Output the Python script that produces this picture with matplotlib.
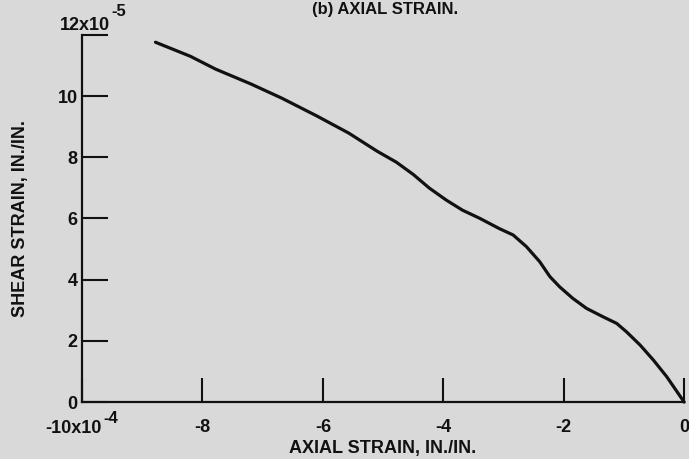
import numpy as np
import matplotlib
matplotlib.use('Agg')
import matplotlib.pyplot as plt

plt.rcParams['font.family'] = ['Liberation Sans', 'DejaVu Sans']

# axial strain (x 1e-4) vs shear strain (x 1e-5)
axial = [-8.78, -8.2, -7.78, -7.2, -6.68, -6.1, -5.57, -5.1, -4.78, -4.5, -4.23,
         -3.95, -3.68, -3.4, -3.07, -2.84, -2.62, -2.4, -2.23, -2.07, -1.85,
         -1.62, -1.35, -1.12, -0.96, -0.73, -0.51, -0.29, 0.0]
shear = [11.76, 11.3, 10.88, 10.4, 9.93, 9.35, 8.79, 8.2, 7.84, 7.44, 6.99,
         6.6, 6.27, 6.01, 5.67, 5.46, 5.08, 4.59, 4.10, 3.77, 3.39,
         3.06, 2.79, 2.57, 2.30, 1.86, 1.37, 0.83, 0.0]

xticks = [-10, -8, -6, -4, -2, 0]
xticklabels = ['', '-8', '-6', '-4', '-2', '0']
yticks = [0, 2, 4, 6, 8, 10, 12]
yticklabels = ['0', '2', '4', '6', '8', '10', '']

bg = '#d9d9d9'
ink = '#111111'
fs = 13
fig = plt.figure(figsize=(6.89, 4.59), dpi=100, facecolor=bg)
ax = fig.add_axes([0.119, 0.124, 0.874, 0.800], facecolor=bg)

ax.plot(axial, shear, color=ink, lw=2.3, solid_capstyle='round',
        solid_joinstyle='round', clip_on=False)

ax.set_xlim(-10, 0)
ax.set_ylim(0, 12)
for s in ['top', 'right']:
    ax.spines[s].set_visible(False)
for s in ['left', 'bottom']:
    ax.spines[s].set_linewidth(1.6)
    ax.spines[s].set_color(ink)

ax.set_xticks(xticks)
ax.set_xticklabels(xticklabels)
ax.set_yticks(yticks)
ax.set_yticklabels(yticklabels)
ax.tick_params(axis='x', direction='in', length=17, width=1.5, pad=12,
               labelsize=fs, colors=ink)
ax.tick_params(axis='y', direction='in', length=18.5, width=1.5, pad=3,
               labelsize=fs, colors=ink)
for lab in ax.get_xticklabels() + ax.get_yticklabels():
    lab.set_fontweight('bold')

# scale multipliers, with big superscripts as on the original
kw = dict(fontsize=fs, fontweight='bold', color=ink, clip_on=False)
ax.text(-9.54, 12.15, '12x10', ha='right', va='baseline', **kw)
ax.text(-9.52, 12.62, '-5', ha='left', va='baseline', fontsize=12,
        fontweight='bold', color=ink, clip_on=False)
ax.text(-9.67, -1.01, '-10x10', ha='right', va='baseline', **kw)
ax.text(-9.65, -0.69, '-4', ha='left', va='baseline', fontsize=12,
        fontweight='bold', color=ink, clip_on=False)

ax.set_xlabel('AXIAL STRAIN, IN./IN.', fontsize=fs, fontweight='bold',
              color=ink, labelpad=3)
ax.set_ylabel('SHEAR STRAIN, IN./IN.', fontsize=fs, fontweight='bold',
              color=ink, labelpad=21)

fig.text(0.559, 0.98, '(b) AXIAL STRAIN.', ha='center', va='center',
         fontsize=12, fontweight='bold', color=ink)

fig.savefig('out.png', dpi=100, facecolor=bg)
